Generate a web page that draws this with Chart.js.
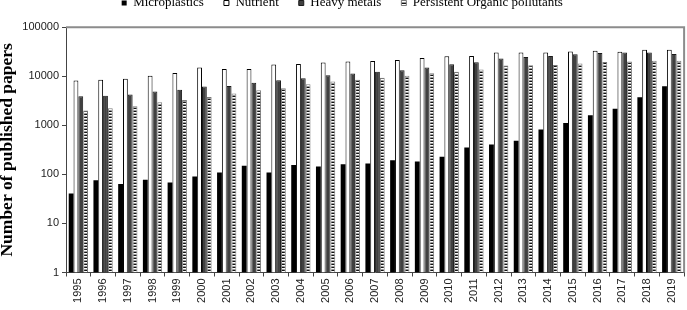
<!DOCTYPE html>
<html>
<head>
<meta charset="utf-8">
<script src="https://cdn.jsdelivr.net/npm/chart.js@4.4.1/dist/chart.umd.min.js"></script>
<style>
  html, body { margin: 0; padding: 0; background: #fff; }
  #wrap { width: 687px; height: 310px; }
</style>
</head>
<body>
<div id="wrap"><canvas id="chart"></canvas></div>
<script>
// values
const years = ['1995', '1996', '1997', '1998', '1999', '2000', '2001', '2002', '2003', '2004',
  '2005', '2006', '2007', '2008', '2009', '2010', '2011', '2012', '2013', '2014',
  '2015', '2016', '2017', '2018', '2019'];
const microplastics = [41, 76, 64, 78, 68, 90, 109, 150, 109, 155, 144, 160, 166, 194, 182,
  230, 355, 405, 485, 820, 1120, 1610, 2170, 3740, 6250];
const nutrient = [8200, 8500, 8900, 10200, 11700, 15000, 14100, 14100, 17300, 17800, 19000,
  19900, 20500, 21500, 23600, 25500, 25900, 30400, 30400, 30400, 32000, 33000, 31500, 34500, 34500];
const heavyMetals = [3900, 4000, 4250, 4900, 5300, 6150, 6350, 7350, 8300, 9100, 10500, 11400,
  12300, 13200, 15000, 17500, 19200, 23000, 24800, 25900, 28000, 29900, 30400, 30400, 28500];
const organicPollutants = [2000, 2240, 2450, 2950, 3300, 3800, 4450, 5200, 5700, 6900, 7800,
  8500, 9350, 10200, 11500, 12400, 13700, 16500, 16700, 17000, 18200, 19500, 19900, 20800, 20800];
const yTicks = [1, 10, 100, 1000, 10000, 100000];

// horizontal stripe fill for the POP series
function stripePattern() {
  const c = document.createElement('canvas');
  c.width = 4;
  c.height = 3;
  const g = c.getContext('2d');
  g.fillStyle = '#ffffff';
  g.fillRect(0, 0, 4, 3);
  g.fillStyle = '#111111';
  g.fillRect(0, 0, 4, 1);
  g.fillStyle = '#9a9a9a';
  g.fillRect(0, 2, 4, 1);
  return g.createPattern(c, 'repeat');
}

// gray frame on top and right of the plot area
const frame = {
  id: 'frame',
  afterDatasetsDraw(chart) {
    const { ctx, chartArea: a } = chart;
    ctx.save();
    ctx.strokeStyle = '#8c8c8c';
    ctx.lineWidth = 2;
    ctx.beginPath();
    ctx.moveTo(a.left, a.top);
    ctx.lineTo(a.right, a.top);
    ctx.lineTo(a.right, a.bottom);
    ctx.stroke();
    ctx.restore();
  }
};

const ctx = document.getElementById('chart').getContext('2d');
new Chart(ctx, {
  type: 'bar',
  data: {
    labels: years,
    datasets: [
      { label: 'Microplastics', data: microplastics, backgroundColor: '#000000', borderWidth: 0 },
      { label: 'Nutrient', data: nutrient, backgroundColor: '#ffffff', borderColor: '#000000', borderWidth: 1 },
      { label: 'Heavy metals', data: heavyMetals, backgroundColor: '#404040', borderColor: '#1a1a1a', borderWidth: 1 },
      { label: 'Persistent Organic pollutants', data: organicPollutants, backgroundColor: stripePattern(), borderColor: '#7a7a7a', borderWidth: 1 }
    ]
  },
  options: {
    responsive: true,
    maintainAspectRatio: false,
    animation: false,
    categoryPercentage: 0.78,
    barPercentage: 1.0,
    layout: { padding: { top: -23.5, right: 2.5, left: 0, bottom: 0 } },
    plugins: {
      legend: {
        position: 'top',
        labels: {
          boxWidth: 5,
          boxHeight: 5,
          padding: 20,
          color: '#000',
          font: { family: 'Liberation Serif', size: 13 }
        }
      },
      tooltip: { enabled: false }
    },
    scales: {
      x: {
        grid: { offset: true, drawOnChartArea: false, tickLength: 4, color: '#444' },
        border: { color: '#444' },
        ticks: {
          minRotation: 90,
          maxRotation: 90,
          padding: 2,
          color: '#222',
          font: { family: 'Liberation Sans', size: 11 }
        },
        afterFit: s => { s.height = 37.5; }
      },
      spacer: {
        position: 'top',
        display: true,
        grid: { display: false },
        border: { display: false },
        ticks: { display: false },
        afterFit: s => { s.height = 7.7; }
      },
      y: {
        type: 'logarithmic',
        min: 1,
        max: 100000,
        afterBuildTicks: s => { s.ticks = yTicks.map(v => ({ value: v })); },
        grid: { drawOnChartArea: false, tickLength: 4, color: '#444' },
        border: { color: '#444' },
        ticks: {
          padding: 3,
          color: '#222',
          font: { family: 'Liberation Sans', size: 11 },
          callback: v => String(v)
        },
        title: {
          display: true,
          text: 'Number of published papers',
          color: '#000',
          font: { family: 'Liberation Serif', size: 17.5, weight: 'bold' },
          padding: { top: -3.5, bottom: 0 }
        },
        afterFit: s => { s.width = 66; }
      }
    }
  },
  plugins: [frame]
});
</script>
</body>
</html>
